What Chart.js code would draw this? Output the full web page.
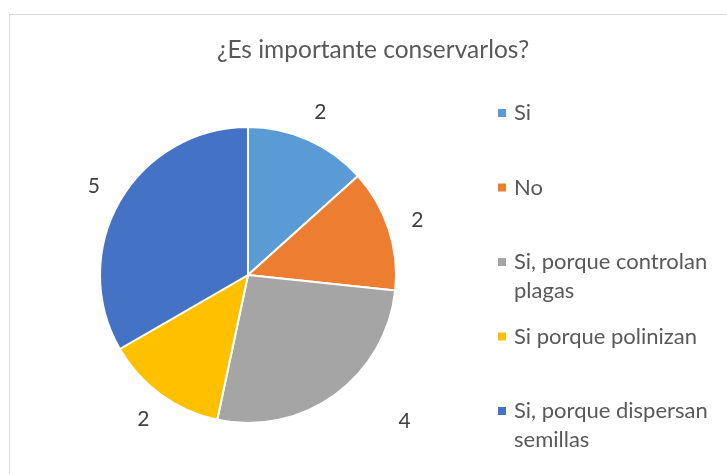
<!DOCTYPE html>
<html>
<head>
<meta charset="utf-8">
<script src="https://cdn.jsdelivr.net/npm/chart.js@4"></script>
<style>
  html, body { margin: 0; padding: 0; background: #fff; }
  #wrap { width: 727px; height: 474px; position: relative; }
</style>
</head>
<body>
<div id="wrap"><canvas id="pieChart" width="727" height="474"></canvas></div>
<script>
const chartTitle = '¿Es importante conservarlos?';
const categories = ['Si', 'No', 'Si, porque controlan plagas', 'Si porque polinizan', 'Si, porque dispersan semillas'];
const counts = [2, 2, 4, 2, 5];
const sliceColors = ['#5B9BD5', '#ED7D31', '#A5A5A5', '#FFC000', '#4472C4'];

const FONT = 'Lato, "Open Sans", sans-serif';

// wraps a legend label into lines that fit maxWidth
function wrapText(ctx, text, maxWidth) {
  const words = text.split(' ');
  const lines = [];
  let line = '';
  words.forEach(w => {
    const test = line ? line + ' ' + w : w;
    if (ctx.measureText(test).width > maxWidth && line) {
      lines.push(line);
      line = w;
    } else {
      line = test;
    }
  });
  if (line) lines.push(line);
  return lines;
}

const extras = {
  id: 'extras',
  beforeDraw(chart) {
    const ctx = chart.ctx;
    ctx.save();
    ctx.fillStyle = '#fff';
    ctx.fillRect(0, 0, chart.width, chart.height);
    ctx.strokeStyle = '#D9D9D9';
    ctx.lineWidth = 1;
    ctx.strokeRect(9.5, 14.5, 760, 500);
    ctx.restore();
  },
  afterDraw(chart) {
    const ctx = chart.ctx;
    ctx.save();

    // title
    ctx.fillStyle = '#595959';
    ctx.font = '24.5px ' + FONT;
    ctx.textAlign = 'center';
    ctx.textBaseline = 'middle';
    ctx.fillText(chartTitle, 373, 50);

    // data labels outside the slices
    const meta = chart.getDatasetMeta(0);
    const shifts = { 2: [52, 2] };
    ctx.fillStyle = '#404040';
    ctx.font = '21px ' + FONT;
    meta.data.forEach((arc, i) => {
      const mid = (arc.startAngle + arc.endAngle) / 2;
      const r = arc.outerRadius + 30;
      const s = shifts[i] || [0, 0];
      const x = arc.x + Math.cos(mid) * r + s[0];
      const y = arc.y + Math.sin(mid) * r + s[1];
      ctx.fillText(String(counts[i]), x, y);
    });

    // legend
    ctx.textAlign = 'left';
    ctx.font = '22px ' + FONT;
    categories.forEach((label, i) => {
      const y0 = 113 + i * 74.5;
      ctx.fillStyle = sliceColors[i];
      ctx.fillRect(498, y0 - 4, 8, 8);
      ctx.fillStyle = '#595959';
      wrapText(ctx, label, 205).forEach((ln, j) => {
        ctx.fillText(ln, 514, y0 + j * 29);
      });
    });
    ctx.restore();
  }
};

new Chart(document.getElementById('pieChart'), {
  type: 'pie',
  data: {
    labels: categories,
    datasets: [{
      data: counts,
      backgroundColor: sliceColors,
      borderColor: '#ffffff',
      borderWidth: 2
    }]
  },
  options: {
    responsive: false,
    animation: false,
    layout: { padding: { left: 99, right: 330, top: 126, bottom: 50 } },
    plugins: {
      legend: { display: false },
      tooltip: { enabled: false },
      title: { display: false }
    }
  },
  plugins: [extras]
});
</script>
</body>
</html>
